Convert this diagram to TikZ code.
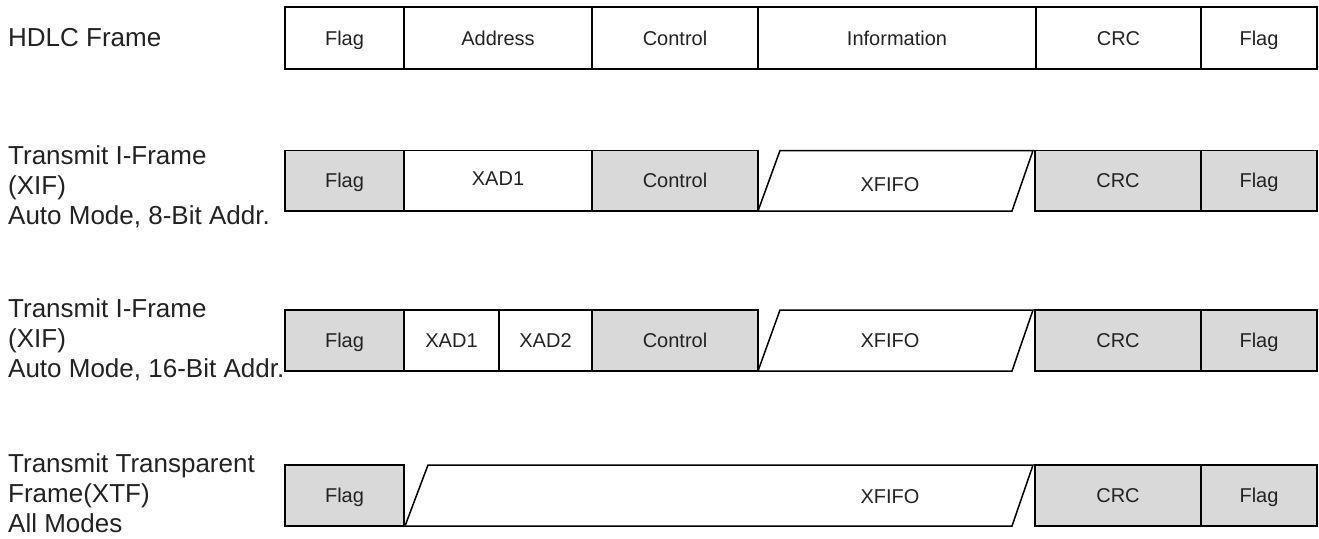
\documentclass[tikz,border=0pt]{standalone}
\usepackage{fontspec}
\setmainfont{Liberation Sans}
\definecolor{boxgray}{HTML}{D9D9D9}
\definecolor{txt}{HTML}{222222}
\begin{document}
\begin{tikzpicture}[x=1pt,y=-1pt,
  fld/.style={draw=black, line width=1.5pt, inner sep=0pt, text height=15pt, text depth=1pt, font=\fontsize{20}{24}\selectfont, text=txt},
  gfld/.style={fld, fill=boxgray},
  wfld/.style={fld, fill=white},
  ftxt/.style={inner sep=0pt, text height=15pt, text depth=1pt, font=\fontsize{20}{24}\selectfont, text=txt},
  para/.style={draw=black, line width=1.5pt, fill=white, line join=miter},
  lbl/.style={anchor=north west, align=left, inner sep=0pt, font=\fontsize{26}{30}\selectfont, text=txt}]
\useasboundingbox (0,0) rectangle (1319,538);

% ---------- labels ----------
\node[lbl] (l1) at (8,28.4) {HDLC Frame};
\node[lbl] (l2) at (8,145.4) {Transmit I-Frame\\(XIF)\\Auto Mode, 8-Bit Addr.};
\node[lbl] (l3) at (8,298.1) {Transmit I-Frame\\(XIF)\\Auto Mode, 16-Bit Addr.};
\node[lbl] (l4) at (8,453.4) {Transmit Transparent\\Frame(XTF)\\All Modes};

% ---------- row 1: HDLC frame ----------
\begin{scope}[every node/.append style={minimum height=62pt}]
\node[wfld, minimum width=119pt] (a1) at (344.5,38) {Flag};
\node[wfld, minimum width=188pt] (a2) at (498,38) {Address};
\node[wfld, minimum width=166pt] (a3) at (675,38) {Control};
\node[wfld, minimum width=278pt] (a4) at (897,38) {Information};
\node[wfld, minimum width=165pt] (a5) at (1118.5,38) {CRC};
\node[wfld, minimum width=116pt] (a6) at (1259,38) {Flag};
\end{scope}

% ---------- row 2: XIF, 8-bit address ----------
\begin{scope}[every node/.append style={minimum height=60.5pt}]
\node[gfld, minimum width=119pt] (b1) at (344.5,180.75) {Flag};
\node[wfld, minimum width=188pt] (b2) at (498,180.75) {\raisebox{2pt}{XAD1}};
\node[gfld, minimum width=166pt] (b3) at (675,180.75) {Control};
\node[gfld, minimum width=166pt] (b5) at (1118,180.75) {CRC};
\node[gfld, minimum width=116pt] (b6) at (1259,180.75) {Flag};
\end{scope}
\draw[para] (758,211) -- (780,150.5) -- (1033,150.5) -- (1012,211) -- cycle;
\node[ftxt] (b4) at (890,184.5) {XFIFO};

% ---------- row 3: XIF, 16-bit address ----------
\begin{scope}[every node/.append style={minimum height=61pt}]
\node[gfld, minimum width=119pt] (c1) at (344.5,340.5) {Flag};
\node[wfld, minimum width=95pt] (c2) at (451.5,340.5) {XAD1};
\node[wfld, minimum width=93pt] (c3) at (545.5,340.5) {XAD2};
\node[gfld, minimum width=166pt] (c4) at (675,340.5) {Control};
\node[gfld, minimum width=166pt] (c6) at (1118,340.5) {CRC};
\node[gfld, minimum width=116pt] (c7) at (1259,340.5) {Flag};
\end{scope}
\draw[para] (758,371) -- (780,310) -- (1033,310) -- (1012,371) -- cycle;
\node[ftxt] (c5) at (890,340.5) {XFIFO};

% ---------- row 4: XTF ----------
\begin{scope}[every node/.append style={minimum height=61pt}]
\node[gfld, minimum width=119pt] (d1) at (344.5,495.5) {Flag};
\node[gfld, minimum width=166pt] (d3) at (1118,495.5) {CRC};
\node[gfld, minimum width=116pt] (d4) at (1259,495.5) {Flag};
\end{scope}
\draw[para] (405,526) -- (428,465) -- (1033,465) -- (1012,526) -- cycle;
\node[ftxt] (d2) at (890,496.5) {XFIFO};
\end{tikzpicture}
\end{document}
